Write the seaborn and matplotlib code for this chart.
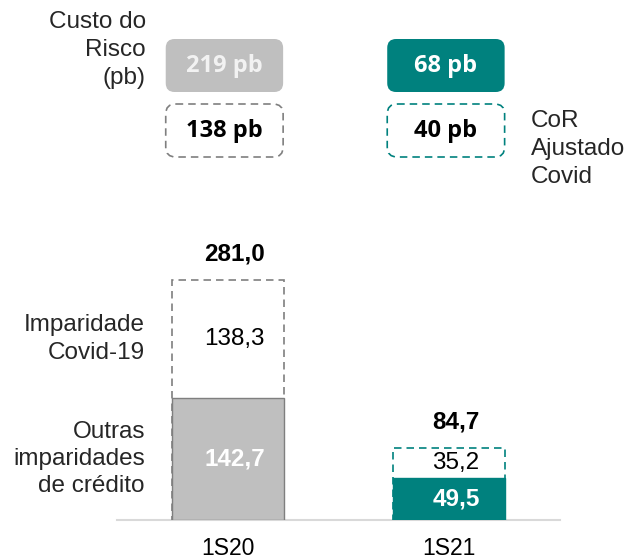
import matplotlib
matplotlib.use("Agg")
import pandas as pd
import matplotlib.pyplot as plt
import seaborn as sns
from matplotlib.patches import FancyBboxPatch

# Data
periods = ["1S20", "1S21"]
outras_imparidades = [142.7, 49.5]
imparidade_covid = [138.3, 35.2]
totals = [281.0, 84.7]
custo_risco = [219, 68]          # pb
cor_ajustado_covid = [138, 40]   # pb

GREY = "#BFBFBF"
GREY_EDGE = "#7F7F7F"
TEAL = "#00817E"
AXIS_COLOR = "#D9D9D9"

sns.set_theme(style="white")
plt.rcParams["font.family"] = ["Liberation Sans", "DejaVu Sans"]

W, H = 625, 558
fig = plt.figure(figsize=(W / 100, H / 100), dpi=100)


def px_box(left, top, right, bottom):
    """Axes rect in figure fractions from pixel edges."""
    return [left / W, 1 - bottom / H, (right - left) / W, (bottom - top) / H]


# --- lower panel: stacked impairment bars ---
YMAX = 300
ax = fig.add_axes(px_box(117, 520 - YMAX * 0.855, 560, 520))

df_tot = pd.DataFrame({"period": periods, "value": totals})
df_out = pd.DataFrame({"period": periods, "value": outras_imparidades})

sns.barplot(data=df_tot, x="period", y="value", hue="period",
            palette=["white", "white"], saturation=1, width=0.505,
            legend=False, ax=ax, zorder=2)
sns.barplot(data=df_out, x="period", y="value", hue="period",
            palette=[GREY, TEAL], saturation=1, width=0.505,
            legend=False, ax=ax, zorder=3)

edge_cols = [GREY_EDGE, TEAL]
for i, p in enumerate(ax.patches[:2]):
    p.set_edgecolor(edge_cols[i])
    p.set_linestyle((0, (4.5, 3)))
    p.set_linewidth(1.2)
for i, p in enumerate(ax.patches[2:4]):
    p.set_edgecolor(GREY_EDGE if i == 0 else TEAL)
    p.set_linewidth(1.0)

ax.set_xlim(-0.5, 1.5)
ax.set_ylim(0, YMAX)
ax.set_xlabel("")
ax.set_ylabel("")
ax.set_yticks([])
ax.tick_params(axis="x", length=0, pad=12, labelsize=16.5, colors="black")
sns.despine(ax=ax, left=True)
ax.spines["bottom"].set_color(AXIS_COLOR)
ax.spines["bottom"].set_linewidth(1.5)
ax.spines["bottom"].set_zorder(1)

dx = 0.03
for i in range(len(periods)):
    ax.text(i + dx, outras_imparidades[i] / 2, f"{outras_imparidades[i]:.1f}".replace(".", ","),
            ha="center", va="center", fontsize=17.5, fontweight="bold", color="white", zorder=5)
    ax.text(i + dx, outras_imparidades[i] + imparidade_covid[i] / 2,
            f"{imparidade_covid[i]:.1f}".replace(".", ","),
            ha="center", va="center", fontsize=17.5, color="black", zorder=5)
    ax.text(i + dx, totals[i] + 30, f"{totals[i]:.1f}".replace(".", ","),
            ha="center", va="center", fontsize=17.5, fontweight="bold", color="black",
            zorder=5, clip_on=False)

label_x = -0.374
ax.text(label_x, outras_imparidades[0] + imparidade_covid[0] / 2, "Imparidade\nCovid-19",
        ha="right", va="center", fontsize=17.5, linespacing=1.32)
ax.text(label_x, outras_imparidades[0] / 2, "Outras\nimparidades\nde crédito",
        ha="right", va="center", fontsize=17.5, linespacing=1.32)

# --- upper panel: cost of risk boxes ---
ax_top = fig.add_axes(px_box(117, 0, 560, 200))
ax_top.set_xlim(-0.5, 1.5)
ax_top.set_ylim(200, 0)
ax_top.axis("off")
aspect = (443 / 2) / 1.0  # px per x-unit / px per y-unit

box_w = 0.53
fills = [GREY, TEAL]
dash_cols = [GREY_EDGE, TEAL]
text_cols = ["#F2F2F2", "white"]
box_font = ["Open Sans", "DejaVu Sans"]
for i in range(len(periods)):
    ax_top.add_patch(FancyBboxPatch((i - 0.015 - box_w / 2, 39), box_w, 53,
                                    boxstyle="round,pad=0,rounding_size=0.04",
                                    mutation_aspect=aspect, facecolor=fills[i],
                                    edgecolor="none"))
    ax_top.text(i - 0.015, 66, f"{custo_risco[i]} pb", ha="center", va="center",
                fontsize=17, fontweight="bold", color=text_cols[i], family=box_font)
    ax_top.add_patch(FancyBboxPatch((i - 0.015 - box_w / 2, 104), box_w, 53,
                                    boxstyle="round,pad=0,rounding_size=0.045",
                                    mutation_aspect=aspect, facecolor="white",
                                    edgecolor=dash_cols[i], linestyle=(0, (4.5, 3)),
                                    linewidth=1.2))
    ax_top.text(i - 0.015, 131, f"{cor_ajustado_covid[i]} pb", ha="center", va="center",
                fontsize=17, fontweight="bold", color="black", family=box_font)

ax_top.text(-0.37, 50, "Custo do\nRisco\n(pb)", ha="right", va="center",
            fontsize=17.5, linespacing=1.37)
ax_top.text(1.369, 149, "CoR\nAjustado\nCovid", ha="left", va="center",
            fontsize=17.5, linespacing=1.37, clip_on=False)

fig.savefig("out.png", dpi=100)
